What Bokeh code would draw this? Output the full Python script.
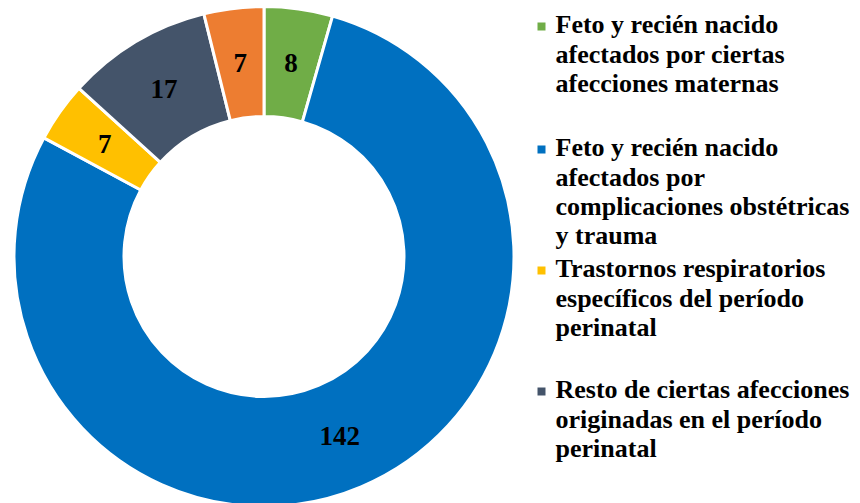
import numpy as np
from bokeh.plotting import figure
from bokeh.models import Range1d, ColumnDataSource
from bokeh.embed import file_html
from bokeh.resources import INLINE
from bokeh.core.properties import value

# ---- data ----
categories = [
    "Feto y recién nacido\nafectados por ciertas\nafecciones maternas",
    "Feto y recién nacido\nafectados por\ncomplicaciones obstétricas\ny trauma",
    "Trastornos respiratorios\nespecíficos del período\nperinatal",
    "Resto de ciertas afecciones\noriginadas en el período\nperinatal",
    "Otras afecciones",
]
values = [8, 142, 7, 17, 7]
colors = ["#70AD47", "#0070C0", "#FFC000", "#44546A", "#ED7D31"]
legend_visible_count = 4  # last legend entry is cut off in the original

# ---- layout (picture pixels) ----
W, H = 860, 503
cx, cy = 263.5, H - 256
r_in, r_out = 140, 250
label_r = 195
legend_first_baseline = [33, 156, 277, 398]
line_step = 29.3
legend_font_px = 26
legend_text_x = 555
marker_x = 541

p = figure(width=W, height=H, x_range=Range1d(0, W), y_range=Range1d(0, H),
           output_backend="svg", toolbar_location=None,
           x_axis_type=None, y_axis_type=None, min_border=0,
           outline_line_color=None, background_fill_color="white",
           border_fill_color="white")

vals = np.array(values, dtype=float)
total = vals.sum()
cum = np.cumsum(vals)
start = np.pi / 2 - 2 * np.pi * (cum - vals) / total
end = np.pi / 2 - 2 * np.pi * cum / total
mid = (start + end) / 2

src = ColumnDataSource(dict(start=start, end=end, color=colors,
                            lx=cx + label_r * np.cos(mid),
                            ly=cy + label_r * np.sin(mid),
                            lab=[str(v) for v in values]))

p.annular_wedge(x=cx, y=cy, inner_radius=r_in, outer_radius=r_out,
                start_angle="start", end_angle="end", direction="clock",
                fill_color="color", line_color="white", line_width=3, source=src)

p.text(x="lx", y="ly", text="lab", source=src, text_align="center",
       text_baseline="middle", text_font=value("Liberation Serif"),
       text_font_style="bold", text_font_size="27px", text_color="black")

# legend
tx, ty, tt = [], [], []
mx, my, mc = [], [], []
cap_mid = 0.33 * legend_font_px
for i in range(legend_visible_count):
    lines = categories[i].split("\n")
    b0 = legend_first_baseline[i]
    for j, ln in enumerate(lines):
        tx.append(legend_text_x)
        ty.append(H - (b0 + j * line_step - cap_mid))
        tt.append(ln)
    mx.append(marker_x)
    my.append(H - (b0 - 7))
    mc.append(colors[i])

p.text(x=tx, y=ty, text=tt, text_align="left", text_baseline="middle",
       text_font=value("Liberation Serif"), text_font_style="bold",
       text_font_size=f"{legend_font_px}px", text_color="black")
p.scatter(x=mx, y=my, marker="square", size=8, fill_color=mc, line_color=None)

open("out.html", "w").write(file_html(p, INLINE))
